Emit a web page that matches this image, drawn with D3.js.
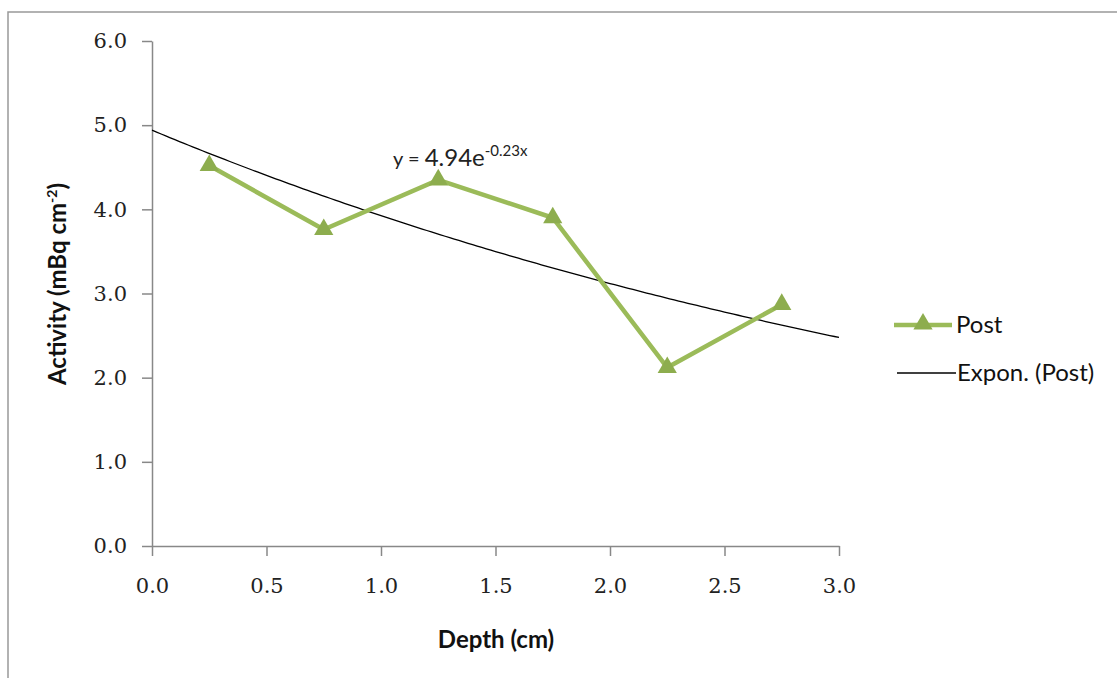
<!DOCTYPE html>
<html><head><meta charset="utf-8">
<script src="https://cdnjs.cloudflare.com/ajax/libs/d3/7.8.5/d3.min.js"></script>
<style>body{margin:0;background:#fff;}svg{display:block;}</style>
</head><body>
<svg id="c" width="1117" height="678"></svg>
<script>
const depths = [0.25, 0.75, 1.25, 1.75, 2.25, 2.75];
const postValues = [4.52, 3.76, 4.35, 3.90, 2.12, 2.87];
const xTicks = [0, 0.5, 1.0, 1.5, 2.0, 2.5, 3.0];
const yTicks = [0, 1, 2, 3, 4, 5, 6];
const trendA = 4.94, trendB = -0.23;
const seriesName = "Post";
const trendName = "Expon. (Post)";

const svg = d3.select("#c");
const green = "#9BBB59";
const markerGreen = "#8DAD4E";
const x = d3.scaleLinear().domain([0, 3]).range([152, 839]);
const y = d3.scaleLinear().domain([0, 6]).range([546, 41]);

// outer border
svg.append("rect").attr("x", 8).attr("y", 12).attr("width", 1120).attr("height", 700)
  .attr("fill", "none").attr("stroke", "#999").attr("stroke-width", 1.5);

const tickFont = "'DejaVu Serif', 'Liberation Serif', serif";
const gx = svg.append("g").attr("transform", "translate(0,546)")
  .call(d3.axisBottom(x).tickValues(xTicks).tickFormat(d3.format(".1f")).tickSize(10).tickPadding(22).tickSizeOuter(0));
const gy = svg.append("g").attr("transform", "translate(152,0)")
  .call(d3.axisLeft(y).tickValues(yTicks).tickFormat(d3.format(".1f")).tickSize(10).tickPadding(15).tickSizeOuter(0));
[gx, gy].forEach(g => {
  g.attr("font-family", null).attr("font-size", null);
  g.select(".domain").attr("stroke", "#888").attr("stroke-width", 1.5);
  g.selectAll(".tick line").attr("stroke", "#888").attr("stroke-width", 1.5);
  g.selectAll(".tick text").attr("fill", "#222").style("font-family", tickFont).style("font-size", "21px");
});

// trend line
const tx = d3.range(0, 3.0001, 0.02);
svg.append("path").datum(tx)
  .attr("d", d3.line().x(d => x(d)).y(d => y(trendA * Math.exp(trendB * d))))
  .attr("fill", "none").attr("stroke", "#000").attr("stroke-width", 1.3);

// series
const pts = depths.map((d, i) => [d, postValues[i]]);
svg.append("path").datum(pts)
  .attr("d", d3.line().x(d => x(d[0])).y(d => y(d[1])))
  .attr("fill", "none").attr("stroke", green).attr("stroke-width", 4.5);
const tri = d3.symbol().type(d3.symbolTriangle).size(160);
svg.selectAll(".m").data(pts).join("path")
  .attr("transform", d => `translate(${x(d[0])},${y(d[1])})`)
  .attr("d", tri).attr("fill", markerGreen);

// equation
const sans = "Lato, 'Open Sans', sans-serif";
const eq = svg.append("text").attr("x", 393).attr("y", 166)
  .style("font-family", sans).style("font-size", "20px").attr("fill", "#222");
eq.append("tspan").text("y = ");
eq.append("tspan").style("font-size", "24px").text("4.94e");
eq.append("tspan").attr("dy", -10).style("font-size", "15px").text("-0.23x");

// axis titles
svg.append("text").attr("x", 496).attr("y", 648).attr("text-anchor", "middle")
  .style("font-family", sans).style("font-weight", "bold").style("font-size", "24px").attr("fill", "#111")
  .text("Depth (cm)");
const yt = svg.append("text").attr("transform", "translate(66,284) rotate(-90)").attr("text-anchor", "middle")
  .style("font-family", sans).style("font-weight", "bold").style("font-size", "24px").attr("fill", "#111");
yt.append("tspan").text("Activity (mBq cm");
yt.append("tspan").attr("dy", -9).style("font-size", "14px").text("-2");
yt.append("tspan").attr("dy", 9).text(")");

// legend
svg.append("line").attr("x1", 894).attr("x2", 952).attr("y1", 325).attr("y2", 325)
  .attr("stroke", green).attr("stroke-width", 4.5);
svg.append("path").attr("transform", "translate(923,324)").attr("d", tri).attr("fill", markerGreen);
svg.append("text").attr("x", 956).attr("y", 333).style("font-family", sans).style("font-size", "24px").attr("fill", "#111").text(seriesName);
svg.append("line").attr("x1", 897).attr("x2", 956).attr("y1", 373).attr("y2", 373)
  .attr("stroke", "#000").attr("stroke-width", 1.3);
svg.append("text").attr("x", 957).attr("y", 381).style("font-family", sans).style("font-size", "24px").attr("fill", "#111").text(trendName);
</script>
</body></html>
